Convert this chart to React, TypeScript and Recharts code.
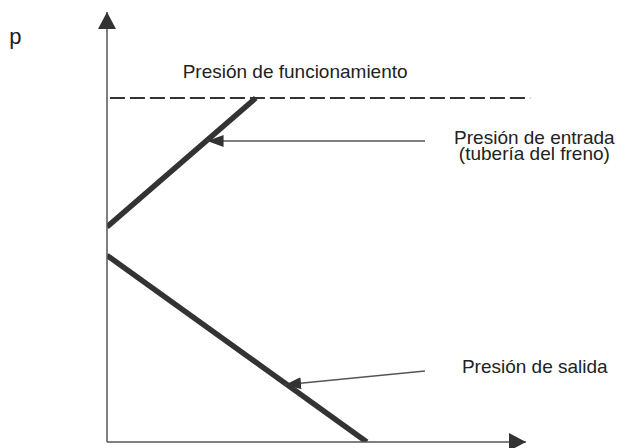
import { ComposedChart, Line, XAxis, YAxis, ReferenceLine, ReferenceDot } from 'recharts';

// time / pressure, arbitrary units
const workingPressure = 8;
const inletPressure = [{ t: 0, p: 5 }, { t: 3.55, p: 8 }];
const outletPressure = [{ t: 0, p: 4.34 }, { t: 6.2, p: 0 }];
const inletLeader = [{ t: 2.4, p: 7 }, { t: 7.59, p: 7 }];
const outletLeader = [{ t: 4.25, p: 1.33 }, { t: 7.59, p: 1.65 }];

const axisLabel = ['p'];
const workingLabel = ['Presión de funcionamiento'];
const inletLabel = ['Presión de entrada', '(tubería del freno)'];
const outletLabel = ['Presión de salida'];

const FONT = '"Liberation Sans", Arial, sans-serif';
const INK = '#222';

const textLabel = (lines: string[], anchor: 'start' | 'middle' | 'end', size: number) => (props: any) => {
  const { viewBox } = props;
  if (!viewBox) return null;
  const x = viewBox.x + (viewBox.width || 0) / 2;
  const y = viewBox.y + (viewBox.height || 0) / 2;
  return (
    <text x={x} y={y} fill={INK} fontSize={size} fontFamily={FONT} textAnchor={anchor}>
      {lines.map((l, i) => (
        <tspan key={i} x={x} dy={i === 0 ? 0 : 16}>{l}</tspan>
      ))}
    </text>
  );
};

export default function App() {
  return (
    <div style={{ position: 'absolute', left: 0, top: 0, width: 617, height: 448, background: '#fff' }}>
      <ComposedChart width={617} height={448} margin={{ top: 12, right: 91, bottom: 5, left: 106 }}>
        <defs>
          <marker id="axisHead" viewBox="0 0 17 18" refX="17" refY="9" markerWidth="17" markerHeight="18"
            markerUnits="userSpaceOnUse" orient="auto-start-reverse">
            <path d="M0,0 L17,9 L0,18 z" fill="#333" />
          </marker>
          <marker id="leaderHead" viewBox="0 0 16 12" refX="16" refY="6" markerWidth="16" markerHeight="12"
            markerUnits="userSpaceOnUse" orient="auto-start-reverse">
            <path d="M0,0 L16,6 L0,12 z" fill="#333" />
          </marker>
        </defs>
        <XAxis type="number" dataKey="t" domain={[0, 10]} height={1} tick={false} tickLine={false}
          axisLine={{ stroke: '#555', strokeWidth: 1.5, markerEnd: 'url(#axisHead)' }} allowDataOverflow />
        <YAxis type="number" dataKey="p" domain={[0, 10]} width={1} tick={false} tickLine={false}
          axisLine={{ stroke: '#555', strokeWidth: 1.5, markerStart: 'url(#axisHead)' }} allowDataOverflow />

        <ReferenceLine segment={[{ x: 0.07, y: workingPressure }, { x: 10.1, y: workingPressure }]}
          stroke="#333" strokeWidth={1.8} strokeDasharray="15 5" ifOverflow="visible" />

        <Line data={inletPressure} dataKey="p" stroke="#333" strokeWidth={5.5} dot={false} isAnimationActive={false} />
        <Line data={outletPressure} dataKey="p" stroke="#333" strokeWidth={5.5} dot={false} isAnimationActive={false} />
        <Line data={inletLeader} dataKey="p" stroke="#555" strokeWidth={1.4} dot={false} isAnimationActive={false}
          markerStart="url(#leaderHead)" />
        <Line data={outletLeader} dataKey="p" stroke="#555" strokeWidth={1.4} dot={false} isAnimationActive={false}
          markerStart="url(#leaderHead)" />

        <ReferenceDot x={-2.33} y={9.26} r={0} fill="none" stroke="none" ifOverflow="visible"
          label={textLabel(axisLabel, 'start', 22)} />
        <ReferenceDot x={4.49} y={8.47} r={0} fill="none" stroke="none" ifOverflow="visible"
          label={textLabel(workingLabel, 'middle', 19)} />
        <ReferenceDot x={10.2} y={6.93} r={0} fill="none" stroke="none" ifOverflow="visible"
          label={textLabel(inletLabel, 'middle', 19)} />
        <ReferenceDot x={8.47} y={1.61} r={0} fill="none" stroke="none" ifOverflow="visible"
          label={textLabel(outletLabel, 'start', 19)} />
      </ComposedChart>
    </div>
  );
}
